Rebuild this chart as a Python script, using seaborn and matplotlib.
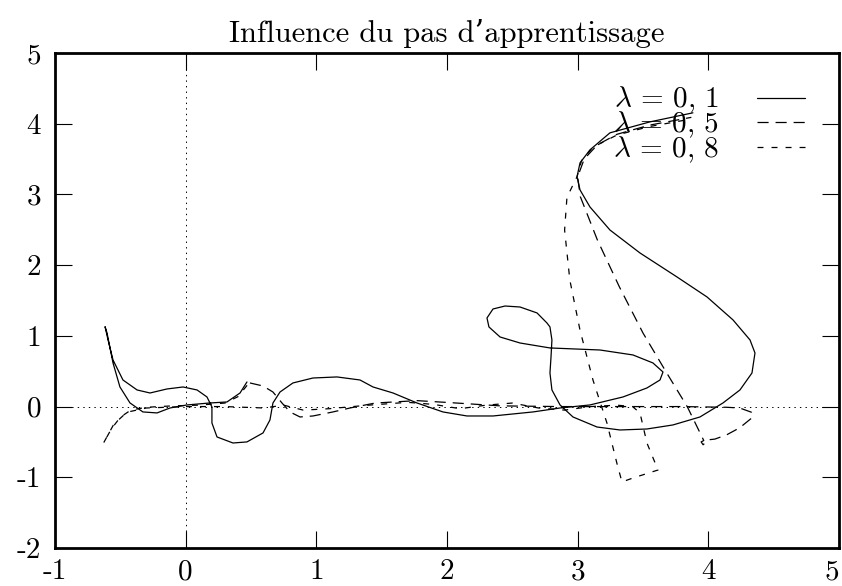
import matplotlib
matplotlib.use("Agg")
import matplotlib.pyplot as plt
import seaborn as sns
import pandas as pd

# Trajectories for three learning rates (x, y pairs, in path order)
x_l01 = [0.469, 0.416, 0.316, 0.186, 0.010, -0.120, -0.219, -0.327, -0.426, -0.503,
         -0.556, -0.602, -0.617, -0.594, -0.556, -0.480, -0.372, -0.273, -0.143, -0.020,
         0.087, 0.163, 0.201, 0.201, 0.240, 0.362, 0.469, 0.592, 0.645, 0.668,
         0.722, 0.821, 0.974, 1.158, 1.334, 1.434, 1.587, 1.770, 1.969, 2.153,
         2.352, 2.658, 2.865, 3.094, 3.347, 3.530, 3.630, 3.653, 3.576, 3.423,
         3.171, 2.788, 2.559, 2.406, 2.321, 2.306, 2.352, 2.444, 2.559, 2.689,
         2.765, 2.788, 2.803, 2.796, 2.788, 2.803, 2.865, 2.964, 3.148, 3.324,
         3.530, 3.729, 3.936, 4.112, 4.242, 4.334, 4.357, 4.319, 4.189, 3.990,
         3.760, 3.477, 3.247, 3.094, 3.018, 2.995, 3.018, 3.094, 3.247, 3.553, 3.882]
y_l01 = [0.348, 0.192, 0.065, 0.051, 0.023, -0.020, -0.090, -0.076, 0.051, 0.277,
         0.617, 1.041, 1.130, 0.942, 0.659, 0.376, 0.235, 0.192, 0.249, 0.277,
         0.235, 0.136, -0.006, -0.232, -0.430, -0.515, -0.500, -0.373, -0.190, 0.051,
         0.206, 0.334, 0.404, 0.419, 0.376, 0.277, 0.192, 0.051, -0.076, -0.133,
         -0.133, -0.076, -0.020, 0.023, 0.136, 0.263, 0.376, 0.489, 0.617, 0.730,
         0.800, 0.829, 0.899, 0.984, 1.126, 1.253, 1.380, 1.422, 1.408, 1.324,
         1.182, 1.126, 0.942, 0.701, 0.475, 0.235, 0.023, -0.147, -0.289, -0.331,
         -0.317, -0.260, -0.147, 0.051, 0.235, 0.475, 0.758, 0.942, 1.225, 1.550,
         1.833, 2.172, 2.497, 2.823, 3.064, 3.248, 3.446, 3.630, 3.871, 4.026, 4.154]

x_l05 = [0.492, 0.592, 0.668, 0.737, 0.798, 0.875, 0.974, 1.127, 1.258, 1.450,
         1.770, 2.023, 2.406, 2.865, 3.300, 3.800, 4.140, 4.240, 4.330, 4.340,
         4.240, 4.140, 4.050, 4.000, 3.960, 3.945, 3.965, 3.840, 3.680, 3.500,
         3.320, 3.150, 3.020, 3.000, 3.050, 3.150, 3.300, 3.550, 3.870]
y_l05 = [0.334, 0.291, 0.206, 0.051, -0.076, -0.147, -0.133, -0.076, -0.020, 0.050,
         0.084, 0.056, 0.010, 0.000, 0.000, 0.000, -0.010, -0.020, -0.080, -0.150,
         -0.300, -0.400, -0.460, -0.470, -0.540, -0.500, -0.480, -0.006, 0.480, 1.040,
         1.690, 2.360, 2.970, 3.250, 3.500, 3.700, 3.850, 3.980, 4.090]

x_l08 = [0.470, 0.400, 0.300, 0.100, -0.100, -0.300, -0.420, -0.500, -0.570, -0.630,
         -0.550, -0.450, -0.300, 0.000, 0.300, 0.600, 0.750, 0.900, 1.100, 1.400,
         1.700, 1.900, 2.100, 2.300, 2.500, 2.700, 2.900, 3.100, 3.300, 3.420,
         3.477, 3.530, 3.615, 3.423, 3.339, 3.300, 3.224, 3.117, 3.018, 2.940,
         2.900, 2.918, 2.995, 3.030, 3.120, 3.300, 3.550, 3.850]
y_l08 = [0.300, 0.140, 0.050, 0.020, 0.010, -0.010, -0.050, -0.150, -0.320, -0.520,
         -0.250, -0.080, -0.020, 0.000, 0.000, -0.020, 0.020, -0.050, -0.030, 0.020,
         0.060, 0.030, -0.030, 0.020, 0.050, -0.020, -0.050, 0.000, 0.020, 0.000,
         -0.090, -0.515, -0.897, -1.010, -1.066, -0.800, -0.232, 0.376, 1.080, 1.790,
         2.497, 2.960, 3.250, 3.480, 3.670, 3.840, 3.960, 4.060]

labels = [r"$\lambda\,=\,0,\,1$", r"$\lambda\,=\,0,\,5$", r"$\lambda\,=\,0,\,8$"]
x_ticks = [-1, 0, 1, 2, 3, 4, 5]
y_ticks = [-2, -1, 0, 1, 2, 3, 4, 5]

sns.set_theme(style="white")
plt.rcParams.update({
    "font.family": ["cmr10", "DejaVu Serif"],
    "mathtext.fontset": "cm",
    "lines.scale_dashes": False,
    "axes.unicode_minus": False,
})

fig = plt.figure(figsize=(8.42, 5.86), dpi=100)
ax = fig.add_axes([55 / 842, 38 / 586, 784 / 842, 495 / 586])

styles = ["-", (0, (8, 5)), (0, (4.3, 5.8))]
series = [(x_l01, y_l01), (x_l05, y_l05), (x_l08, y_l08)]
for (xs, ys), lab, ls in zip(series, labels, styles):
    df = pd.DataFrame({"x": xs, "y": ys})
    sns.lineplot(data=df, x="x", y="y", sort=False, estimator=None, ax=ax,
                 color="black", linewidth=0.9, linestyle=ls, label=lab)

# zero axes
ax.axhline(0, color="black", linewidth=0.7, linestyle=(0, (1, 3)), zorder=0)
ax.axvline(0, color="black", linewidth=0.7, linestyle=(0, (1, 3)), zorder=0)

ax.set_xlim(-1, 5)
ax.set_ylim(-2, 5)
ax.set_xticks(x_ticks)
ax.set_yticks(y_ticks)
ax.set_xticklabels([str(v) for v in x_ticks])
ax.set_yticklabels([str(v) for v in y_ticks])
ax.set_xlabel("")
ax.set_ylabel("")
ax.tick_params(direction="in", length=12, width=0.8, color="black",
               top=True, right=True, bottom=True, left=True,
               labelsize=21, labelcolor="black")
ax.tick_params(axis="x", pad=8)
ax.tick_params(axis="y", pad=10)
xlabs = ax.get_xticklabels()
xlabs[-1].set_horizontalalignment("right")
for sp in ax.spines.values():
    sp.set_color("black")
    sp.set_linewidth(2)

ax.set_title("Influence du pas d\u2019apprentissage", fontsize=22, pad=8, color="black")

leg = ax.legend(loc="upper right", bbox_to_anchor=(805 / 842, 1 - 85 / 586),
                bbox_transform=fig.transFigure, frameon=False, markerfirst=False,
                fontsize=21, handlelength=1.65, handletextpad=1.3,
                labelspacing=-0.2, borderpad=0, borderaxespad=0)
for t in leg.get_texts():
    t.set_color("black")

fig.savefig("out.png", dpi=100)
